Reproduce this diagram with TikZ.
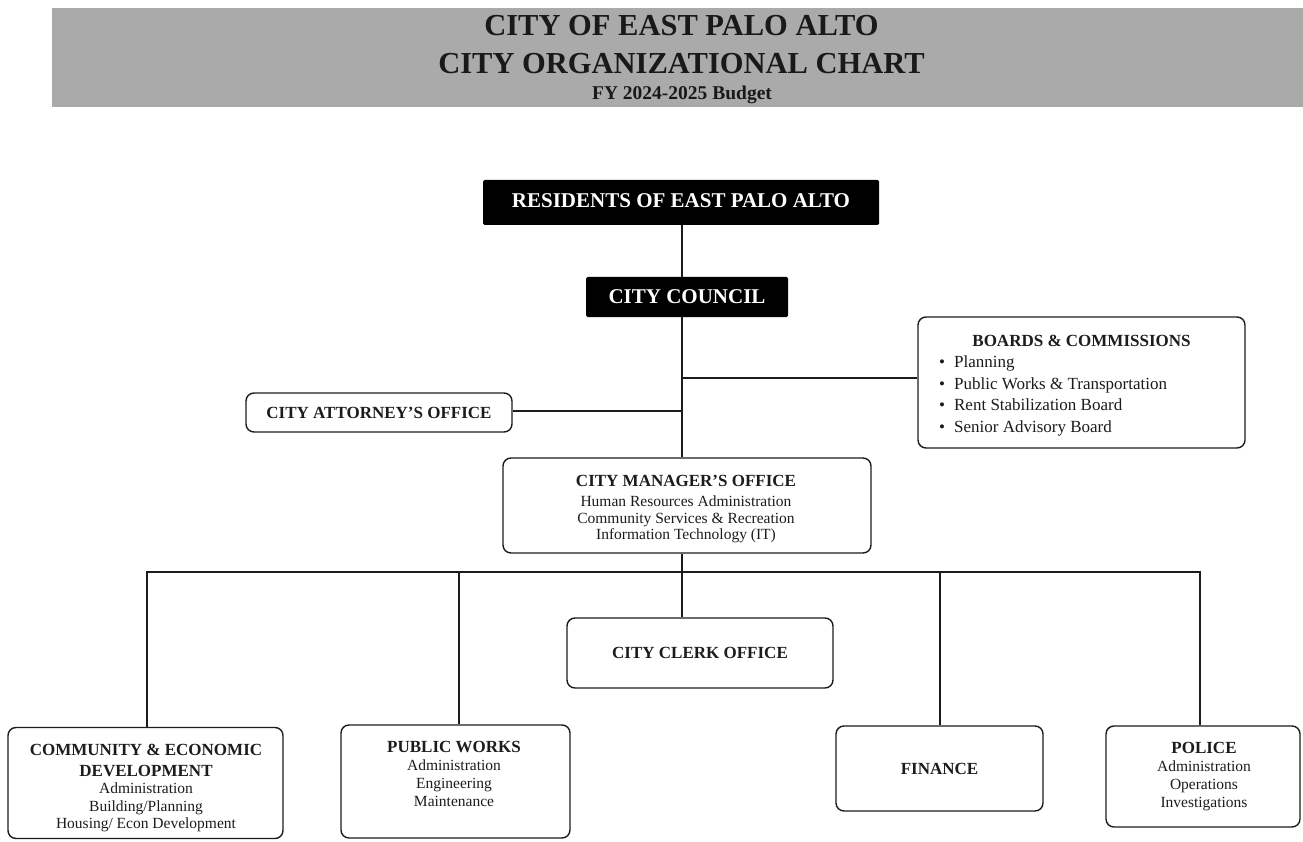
\documentclass[tikz,border=0pt]{standalone}
\usepackage{fontspec}
\setmainfont{Liberation Serif}
\definecolor{banner}{RGB}{170,170,170}
\definecolor{ink}{RGB}{28,28,28}
\begin{document}
\begin{tikzpicture}[x=1pt,y=-1pt,
  box/.style={draw=ink, line width=1.4pt, rounded corners=8pt, fill=white, inner sep=0pt},
  blackbox/.style={fill=black, inner sep=0pt, text=white, font=\fontsize{21}{24}\selectfont\bfseries, rounded corners=1.5pt},
  boxtitle/.style={font=\fontsize{17}{19}\selectfont\bfseries, text=ink},
  txt/.style={inner sep=0pt, align=center, text=ink},
  conn/.style={draw=ink, line width=1.3pt},
  headline/.style={inner sep=0pt, anchor=base, text=black!90, font=\fontsize{30.5}{32}\selectfont\bfseries}]

\useasboundingbox (0,0) rectangle (1303,842);

% banner
\fill[banner] (52,8) rectangle (1303,107);
\node[headline] (h1) at (681.5,36) {CITY OF EAST PALO ALTO};
\node[headline] (h2) at (681.5,74) {CITY ORGANIZATIONAL CHART};
\node[headline, font=\fontsize{19.5}{20}\selectfont\bfseries] (h3) at (682,100) {FY 2024-2025 Budget};

% top boxes
\node[blackbox, minimum width=396pt, minimum height=45pt, text depth=3pt] (res) at (681,202.5) {RESIDENTS OF EAST PALO ALTO};
\node[blackbox, minimum width=202pt, minimum height=40pt] (council) at (687,297) {CITY COUNCIL};

% boards
\node[box, minimum width=327pt, minimum height=131pt] (boards) at (1081.5,382.5) {};
\node[txt, boxtitle, anchor=north] (boardsT) at (1081.5,335) {BOARDS \& COMMISSIONS};
\node[txt, align=left, anchor=north west, font=\fontsize{17}{21.5}\selectfont] (boardsL) at (939,356)
  {\textbullet\hspace{9pt}Planning\\
   \textbullet\hspace{9pt}Public Works \& Transportation\\
   \textbullet\hspace{9pt}Rent Stabilization Board\\
   \textbullet\hspace{9pt}Senior Advisory Board};

% attorney
\node[box, boxtitle, minimum width=266pt, minimum height=39pt] (att) at (379,412.5) {CITY ATTORNEY’S OFFICE};

% city manager
\node[box, minimum width=368pt, minimum height=95pt] (cmo) at (687,505.5) {};
\node[txt, anchor=north, font=\fontsize{15.5}{16.5}\selectfont] (cmoT) at (686,474.5)
  {{\fontsize{17}{19}\selectfont\bfseries CITY MANAGER’S OFFICE}\\[4pt]
   Human Resources Administration\\
   Community Services \& Recreation\\
   Information Technology (IT)};

% clerk
\node[box, boxtitle, minimum width=266pt, minimum height=70pt] (clerk) at (700,653) {CITY CLERK OFFICE};

% departments
\node[box, minimum width=275pt, minimum height=111pt] (ced) at (145.5,783) {};
\node[txt, anchor=north, font=\fontsize{15.5}{17.5}\selectfont] (cedT) at (146,743.5)
  {{\fontsize{17}{19}\selectfont\bfseries COMMUNITY \& ECONOMIC}\\[3.5pt]
   {\fontsize{17}{19}\selectfont\bfseries DEVELOPMENT}\\
   Administration\\
   Building/Planning\\
   Housing/ Econ Development};

\node[box, minimum width=229pt, minimum height=113pt] (pw) at (455.5,781.5) {};
\node[txt, anchor=north, font=\fontsize{15.5}{18}\selectfont] (pwT) at (454,741.5)
  {{\fontsize{17}{19}\selectfont\bfseries PUBLIC WORKS}\\
   Administration\\
   Engineering\\
   Maintenance};

\node[box, boxtitle, minimum width=207pt, minimum height=85pt] (fin) at (939.5,768.5) {FINANCE};

\node[box, minimum width=194pt, minimum height=101pt] (police) at (1203,776.5) {};
\node[txt, anchor=north, font=\fontsize{15.5}{18}\selectfont] (policeT) at (1204,742)
  {{\fontsize{17}{19}\selectfont\bfseries POLICE}\\
   Administration\\
   Operations\\
   Investigations};

% connectors
\coordinate (jb) at (682,378);
\coordinate (bus) at (682,572);
\draw[conn] (jb |- res.south) -- (jb |- council.north);
\draw[conn] (jb |- council.south) -- (jb |- cmo.north);
\draw[conn] (jb) -- (jb -| boards.west);
\draw[conn] ([yshift=1.5pt]att.east) -- ([yshift=1.5pt]att.east -| jb);
\draw[conn] (jb |- cmo.south) -- (jb |- clerk.north);
\draw[conn] ([xshift=1.5pt]ced.north) |- (bus) -| ([xshift=-3pt]police.north);
\draw[conn] ([xshift=3.5pt]pw.north) -- ([xshift=3.5pt]pw.north |- bus);
\draw[conn] ([xshift=0.5pt]fin.north) -- ([xshift=0.5pt]fin.north |- bus);
\end{tikzpicture}
\end{document}
